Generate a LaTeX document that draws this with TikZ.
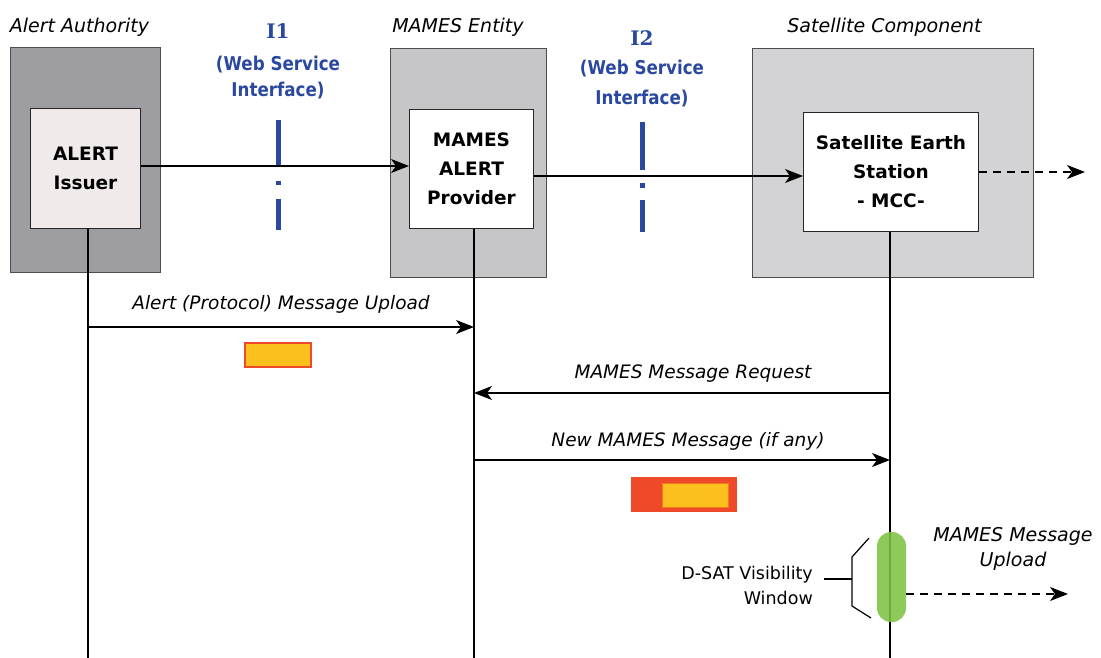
\documentclass[tikz,border=0pt]{standalone}
\usepackage{fontspec}
\setmainfont{DejaVu Sans}
\newfontfamily\slabfont{DejaVu Serif}
\newfontfamily\condfont[FakeStretch=0.88]{DejaVu Sans}
\usetikzlibrary{arrows.meta}
\definecolor{aagray}{HTML}{9E9EA2}
\definecolor{megray}{HTML}{C6C6C8}
\definecolor{scgray}{HTML}{D3D3D5}
\definecolor{issuerfill}{HTML}{F1EAEA}
\definecolor{ifblue}{HTML}{2A48A0}
\definecolor{tokyellow}{HTML}{FCC01E}
\definecolor{tokred}{HTML}{EE4A2A}
\definecolor{visgreen}{HTML}{7EC343}
\begin{document}
\begin{tikzpicture}[x=1pt,y=-1pt,
  outerbox/.style={draw=black!70, line width=0.8pt, anchor=north west, inner sep=0pt},
  innerbox/.style={draw=black!85, line width=1pt, anchor=north west, inner sep=0pt,
    align=center, font=\bfseries\fontsize{18.5}{29}\selectfont},
  grouptitle/.style={font=\itshape\fontsize{19}{22}\selectfont},
  iface/.style={text=ifblue, align=center, anchor=north, inner sep=0pt},
  ifdash/.style={draw=ifblue, line width=5pt},
  lifeline/.style={draw=black, line width=1.2pt},
  msg/.style={draw=black, line width=1.2pt, -{Stealth[length=18pt,width=14pt,inset=5pt]}},
  dmsg/.style={msg, dash pattern=on 8pt off 6pt},
  msglabel/.style={font=\itshape\fontsize{18.5}{22}\selectfont},
  token/.style={inner sep=0pt, anchor=north west}
]
\useasboundingbox (0,0) rectangle (1101,658);

% group boxes
\node[outerbox, fill=aagray, minimum width=150pt, minimum height=225pt] (aa) at (10,47) {};
\node[outerbox, fill=megray, minimum width=156pt, minimum height=229pt] (me) at (390,48) {};
\node[outerbox, fill=scgray, minimum width=281pt, minimum height=229pt] (sc) at (752,48) {};

\node[grouptitle] (aat) at (79.5,27) {Alert Authority};
\node[grouptitle] (met) at (458,27) {MAMES Entity};
\node[grouptitle] (sct) at (884.5,27) {Satellite Component};

% inner boxes
\node[innerbox, fill=issuerfill, minimum width=110pt, minimum height=120pt] (issuer) at (30,108) {ALERT\\Issuer};
\node[innerbox, fill=white, minimum width=124pt, minimum height=119pt] (prov) at (409,109) {MAMES\\ALERT\\Provider};
\node[innerbox, fill=white, minimum width=175pt, minimum height=119pt] (ses) at (803,112) {Satellite Earth\\Station\\- MCC-};

% interfaces
\node[iface, font=\condfont\bfseries\fontsize{19}{26}\selectfont] (i1) at (278,23)
  {{\slabfont\bfseries\fontsize{20}{22}\selectfont I1}\\[6pt](Web Service\\Interface)};
\node[iface, font=\condfont\bfseries\fontsize{19}{29.5}\selectfont] (i2) at (642,30)
  {{\slabfont\bfseries\fontsize{20}{22}\selectfont I2}\\(Web Service\\Interface)};
\coordinate (i1top) at (278,120);
\coordinate (i1bot) at (278,230);
\coordinate (i2top) at (642,122);
\coordinate (i2bot) at (642,232);
\draw[ifdash, dash pattern=on 47pt off 14pt on 4pt off 14pt on 31pt] (i1top) -- (i1bot);
\draw[ifdash, dash pattern=on 48pt off 13pt on 5pt off 12pt on 32pt] (i2top) -- (i2bot);

% top connectors
\draw[msg] (issuer.east |- 0,166) -- (prov.west |- 0,166);
\draw[msg] (prov.east |- 0,176) -- (ses.west |- 0,176);
\coordinate (sesout) at (1085,172);
\draw[dmsg] (ses.east |- sesout) -- (sesout);

% lifelines
\coordinate (b1) at (88,658);
\coordinate (b2) at (474,658);
\coordinate (b3) at (890,658);
\draw[lifeline] (issuer.south -| b1) -- (b1);
\draw[lifeline] (prov.south -| b2) -- (b2);
\draw[lifeline] (ses.south -| b3) -- (b3);

% messages
\coordinate (m1a) at (88,327);  \coordinate (m1b) at (474,327);
\coordinate (m2a) at (890,393); \coordinate (m2b) at (474,393);
\coordinate (m3a) at (474,460); \coordinate (m3b) at (890,460);
\draw[msg] (m1a) -- (m1b);
\draw[msg] (m2a) -- (m2b);
\draw[msg] (m3a) -- (m3b);
\node[msglabel] (l1) at (281,304) {Alert (Protocol) Message Upload};
\node[msglabel] (l2) at (693,374) {MAMES Message Request};
\node[msglabel] (l3) at (688,441) {New MAMES Message (if any)};

% tokens
\node[token, draw=tokred, fill=tokyellow, line width=1.5pt, minimum width=66pt, minimum height=24pt] (tok1) at (244,342) {};
\node[token, fill=tokred, minimum width=106pt, minimum height=35pt] (tok2) at (631,477) {};
\node[token, fill=tokyellow, draw=tokred!60!tokyellow, line width=0.6pt, minimum width=66pt, minimum height=24pt] (tok2b) at (662,483) {};

% visibility window
\node[fill=visgreen, fill opacity=0.88, rounded corners=14pt, minimum width=29pt, minimum height=90pt, inner sep=0pt] (vis) at (891.5,577) {};
\coordinate (br1) at (869,538);
\coordinate (br2) at (852,557);
\coordinate (br3) at (852,606);
\coordinate (br4) at (871,618);
\coordinate (brm) at (852,579);
\draw[line width=1.2pt] (br1) -- (br2) -- (br3) -- (br4);
\node[align=right, anchor=east, inner sep=0pt, font=\fontsize{17.5}{25}\selectfont] (dsat) at (813,585.5) {D-SAT Visibility\\Window};
\coordinate (brl) at (824,579);
\draw[line width=1.2pt] (brl) -- (brm);
\node[align=center, font=\itshape\fontsize{19}{25}\selectfont] (upl) at (1013,549) {MAMES Message\\Upload};
\coordinate (uplend) at (1068,594);
\draw[dmsg] (vis.east |- uplend) -- (uplend);
\end{tikzpicture}
\end{document}
